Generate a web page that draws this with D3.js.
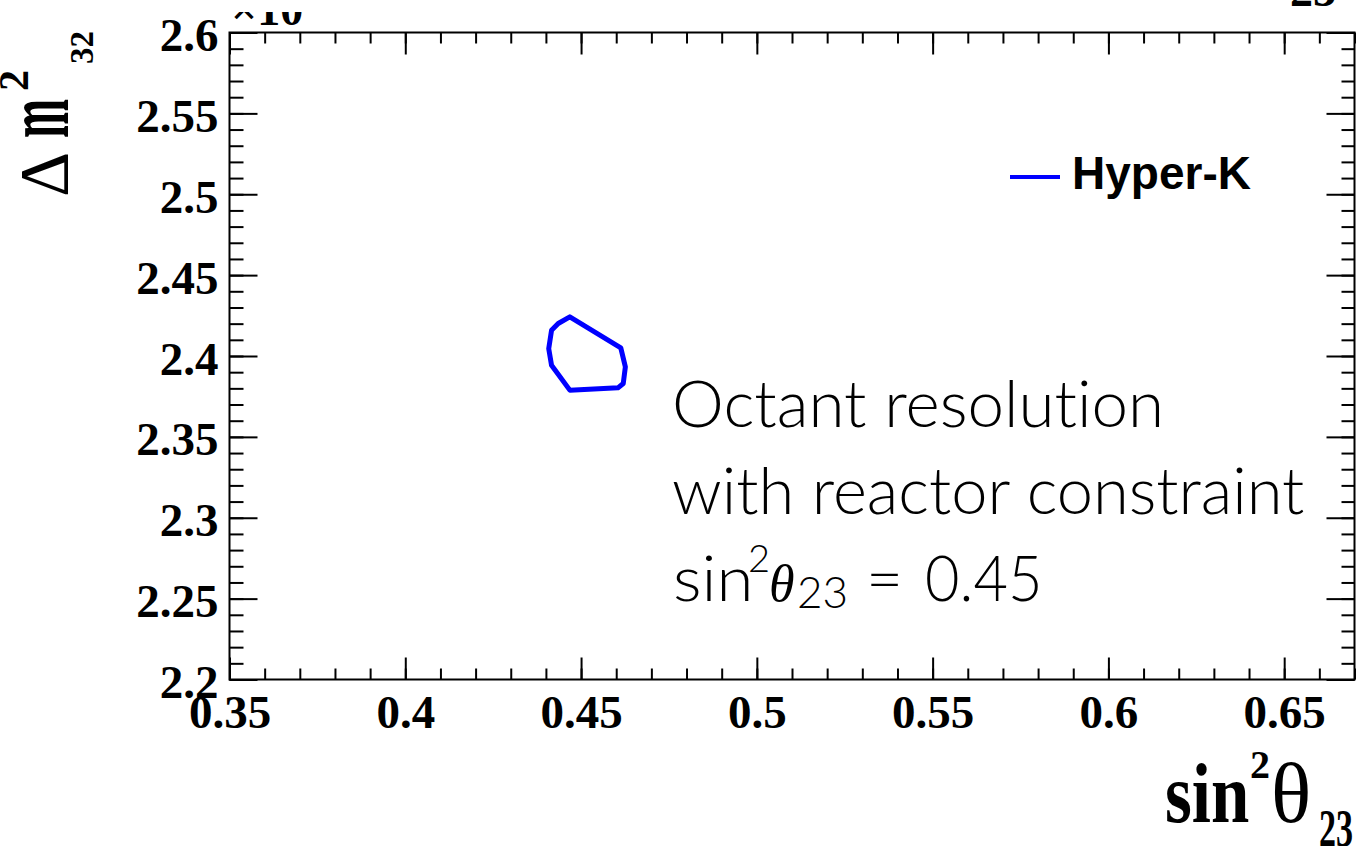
<!DOCTYPE html>
<html>
<head>
<meta charset="utf-8">
<script src="https://cdn.jsdelivr.net/npm/d3@7"></script>
<style>
  html, body { margin: 0; padding: 0; background: #fff; }
  svg { display: block; }
</style>
</head>
<body>
<svg id="chart" width="1358" height="846"></svg>
<script>
// Axis ranges (Δm²32 in units of 10^-3 eV²)
const xDomain = [0.35, 0.67];
const yDomain = [2.2, 2.6];

// Major tick labels
const xTickLabels = ["0.35", "0.4", "0.45", "0.5", "0.55", "0.6", "0.65"];
const yTickLabels = ["2.2", "2.25", "2.3", "2.35", "2.4", "2.45", "2.5", "2.55", "2.6"];

// Hyper-K octant-resolution contour (closed polygon)
const contourX = [0.4468, 0.4435, 0.4416, 0.4408, 0.4416, 0.4468, 0.4605, 0.4620, 0.4626, 0.4613];
const contourY = [2.4242, 2.4201, 2.4159, 2.4046, 2.3943, 2.3789, 2.3803, 2.3830, 2.3933, 2.4050];

const legendLabels = ["Hyper-K"];
const annotationLines = ["Octant resolution", "with reactor constraint"];

const W = 1358, H = 846;
const frame = { left: 229.5, right: 1354.5, top: 32.5, bottom: 679.5 };

const svg = d3.select("#chart");
const x = d3.scaleLinear().domain(xDomain).range([frame.left, frame.right]);
const y = d3.scaleLinear().domain(yDomain).range([frame.bottom, frame.top]);

const serif = "'Liberation Serif', 'Times New Roman', serif";
const sans = "'Liberation Sans', Arial, sans-serif";
const light = "Lato, 'Open Sans', sans-serif";

// tick positions every 0.01
const xMinor = d3.range(0, 33).map(i => +(0.35 + i * 0.01).toFixed(2)).filter(v => v <= 0.67);
const yMinor = d3.range(0, 41).map(i => +(2.2 + i * 0.01).toFixed(2));
const xMajor = xTickLabels.map(Number);
const yMajor = yTickLabels.map(Number);

function styleTicks(g) {
  g.select(".domain").remove();
  g.selectAll(".tick line").attr("stroke", "#000").attr("stroke-width", 2);
}

// bottom axis
svg.append("g").attr("transform", `translate(0,${frame.bottom})`)
  .call(d3.axisBottom(x).tickValues(xMinor).tickSize(-11).tickFormat(""))
  .call(styleTicks);
const xAxisG = svg.append("g").attr("transform", `translate(0,${frame.bottom})`)
  .call(d3.axisBottom(x).tickValues(xMajor).tickSize(-22).tickFormat((d, i) => xTickLabels[i]))
  .call(styleTicks);
xAxisG.selectAll("text")
  .attr("y", 48).attr("dy", null)
  .attr("fill", "#000")
  .style("font-family", serif).style("font-weight", "bold").style("font-size", "47px");

// top axis
svg.append("g").attr("transform", `translate(0,${frame.top})`)
  .call(d3.axisTop(x).tickValues(xMinor).tickSize(-11).tickFormat(""))
  .call(styleTicks);
svg.append("g").attr("transform", `translate(0,${frame.top})`)
  .call(d3.axisTop(x).tickValues(xMajor).tickSize(-22).tickFormat(""))
  .call(styleTicks);

// left axis
svg.append("g").attr("transform", `translate(${frame.left},0)`)
  .call(d3.axisLeft(y).tickValues(yMinor).tickSize(-14).tickFormat(""))
  .call(styleTicks);
const yAxisG = svg.append("g").attr("transform", `translate(${frame.left},0)`)
  .call(d3.axisLeft(y).tickValues(yMajor).tickSize(-28).tickFormat((d, i) => yTickLabels[i]))
  .call(styleTicks);
yAxisG.selectAll("text")
  .attr("x", -11).attr("dy", "18px")
  .attr("fill", "#000")
  .attr("text-anchor", "end")
  .style("font-family", serif).style("font-weight", "bold").style("font-size", "47px");

// right axis
svg.append("g").attr("transform", `translate(${frame.right},0)`)
  .call(d3.axisRight(y).tickValues(yMinor).tickSize(-13).tickFormat(""))
  .call(styleTicks);
svg.append("g").attr("transform", `translate(${frame.right},0)`)
  .call(d3.axisRight(y).tickValues(yMajor).tickSize(-28).tickFormat(""))
  .call(styleTicks);

// frame
svg.append("rect")
  .attr("x", frame.left).attr("y", frame.top)
  .attr("width", frame.right - frame.left).attr("height", frame.bottom - frame.top)
  .attr("fill", "none").attr("stroke", "#000").attr("stroke-width", 2);

// exponent label, partly above the canvas edge
svg.append("defs").append("clipPath").attr("id", "expClip")
  .append("rect").attr("x", 0).attr("y", 12).attr("width", W).attr("height", H);
svg.append("text")
  .attr("clip-path", "url(#expClip)")
  .attr("x", 231).attr("y", 25)
  .style("font-family", serif).style("font-weight", "bold").style("font-size", "46px")
  .text("×10");

// subscript of a neighbouring title, cut by the top edge
svg.append("text")
  .attr("x", 1290).attr("y", 6)
  .style("font-family", serif).style("font-weight", "bold").style("font-size", "46px")
  .text("23");

// contour
const contour = contourX.map((v, i) => [x(v), y(contourY[i])]);
svg.append("path")
  .attr("d", d3.line().curve(d3.curveLinearClosed)(contour))
  .attr("fill", "none").attr("stroke", "#0000ff").attr("stroke-width", 5)
  .attr("stroke-linejoin", "round");

// legend
const legend = svg.append("g");
legend.append("line")
  .attr("x1", 1010).attr("x2", 1060).attr("y1", 177).attr("y2", 177)
  .attr("stroke", "#0000ff").attr("stroke-width", 4);
legend.append("text")
  .attr("x", 1072).attr("y", 189)
  .style("font-family", sans).style("font-weight", "bold").style("font-size", "46px")
  .text(legendLabels[0]);

// annotation
const ann = svg.append("g").style("font-family", light).style("font-weight", 300)
  .style("font-variant-ligatures", "none").attr("fill", "#000");
ann.append("text").attr("x", 672).attr("y", 427).style("font-size", "65.5px").text(annotationLines[0]);
ann.append("text").attr("x", 672).attr("y", 514).style("font-size", "65px").text(annotationLines[1]);
const line3 = ann.append("g").style("font-size", "64px");
line3.append("text").attr("transform", "translate(673,601) scale(1.05,1)").text("sin");
line3.append("text").attr("x", 748).attr("y", 572).style("font-size", "38px").text("2");
line3.append("text").attr("x", 769).attr("y", 601)
  .style("font-family", serif).style("font-style", "italic").style("font-weight", "normal")
  .style("font-size", "52px").text("θ");
line3.append("text").attr("x", 797).attr("y", 608).style("font-size", "44px").text("23");
line3.append("text").attr("x", 866).attr("y", 601).text("=");
line3.append("text").attr("transform", "translate(925,601) scale(0.93,1)").text("0.45");

// x-axis title
const xt = svg.append("g").attr("fill", "#000");
xt.append("text").attr("transform", "translate(1165,822) scale(0.82,1)")
  .style("font-family", serif).style("font-weight", "bold").style("font-size", "84px").text("sin");
xt.append("text").attr("x", 1250).attr("y", 778)
  .style("font-family", serif).style("font-weight", "bold").style("font-size", "40px").text("2");
xt.append("text").attr("x", 1271).attr("y", 822)
  .style("font-family", serif).style("font-size", "84px").text("θ");
xt.append("text").attr("transform", "translate(1319,846) scale(0.85,1.3)")
  .style("font-family", serif).style("font-weight", "bold").style("font-size", "40px").text("23");

// y-axis title (rotated)
const yt = svg.append("g").attr("transform", "translate(68,197) rotate(-90)").attr("fill", "#000");
yt.append("text").attr("x", 0).attr("y", 0)
  .style("font-family", serif).style("font-size", "70px").text("Δ");
yt.append("text").attr("transform", "translate(59,0) scale(0.5,1)")
  .style("font-family", serif).style("font-weight", "bold").style("font-size", "94px").text("m");
yt.append("text").attr("x", 106).attr("y", -40)
  .style("font-family", serif).style("font-weight", "bold").style("font-size", "42px").text("2");
yt.append("text").attr("x", 133).attr("y", 25)
  .style("font-family", serif).style("font-weight", "bold").style("font-size", "33px").text("32");
</script>
</body>
</html>
